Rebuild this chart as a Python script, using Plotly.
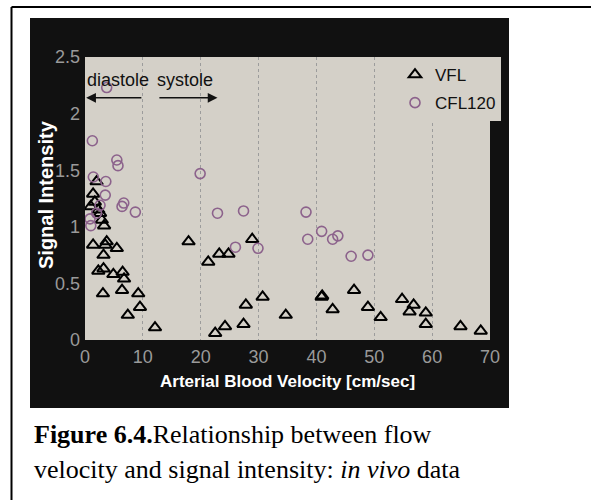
import plotly.graph_objects as go

# ---- data ----
vfl_x = [2.0, 1.4, 0.98, 1.7, 2.3, 2.6, 2.9, 3.3, 1.4, 3.75, 3.5, 3.2, 5.5, 2.3, 3.2, 4.9,
         6.5, 6.75, 3.1, 6.4, 9.2, 9.5, 7.4, 12.1, 17.9, 21.3, 23.2, 24.8, 28.9, 22.5, 24.2,
         27.4, 27.8, 30.7, 34.7, 41.0, 40.9, 42.8, 46.5, 48.9, 51.1, 54.8, 56.1, 56.8, 58.9,
         58.9, 64.9, 68.4]
vfl_y = [1.40, 1.29, 1.18, 1.22, 1.15, 1.12, 1.06, 1.01, 0.84, 0.87, 0.84, 0.75, 0.81, 0.61,
         0.63, 0.58, 0.60, 0.54, 0.41, 0.44, 0.41, 0.29, 0.22, 0.11, 0.87, 0.69, 0.76, 0.76,
         0.89, 0.06, 0.12, 0.14, 0.31, 0.38, 0.22, 0.39, 0.38, 0.27, 0.44, 0.29, 0.20, 0.36,
         0.25, 0.31, 0.24, 0.14, 0.12, 0.08]

cfl_x = [3.75, 1.27, 1.44, 3.6, 3.5, 5.5, 5.7, 6.7, 6.4, 8.7, 0.87, 1.0, 2.6, 2.0,
         19.9, 22.9, 27.4, 26.0, 29.9, 38.2, 38.5, 40.9, 42.8, 43.7, 46.0, 48.9]
cfl_y = [2.23, 1.76, 1.44, 1.40, 1.28, 1.59, 1.54, 1.21, 1.18, 1.13, 1.07, 1.01, 1.19, 1.12,
         1.47, 1.12, 1.14, 0.82, 0.81, 1.13, 0.89, 0.96, 0.89, 0.92, 0.74, 0.75]

x_ticks = [0, 10, 20, 30, 40, 50, 60, 70]
y_ticks = [0, 0.5, 1, 1.5, 2, 2.5]
y_tick_text = ["0", "0.5", "1", "1.5", "2", "2.5"]

# ---- styling ----
SANS = "Liberation Sans, Arial, sans-serif"
SERIF = "Liberation Serif, Times New Roman, serif"
PLOT_BG = "#d4d0c8"
DARK = "#111111"
TICK_GRAY = "#9a9a9a"
PURPLE = "#8c628c"

W, H = 591, 500
L, R, T, B = 85, 101, 57, 160
pw, ph = W - L - R, H - T - B


def px(x):
    return (x - L) / pw


def py(y):
    return (H - B - y) / ph


fig = go.Figure()
fig.add_trace(go.Scatter(
    x=vfl_x, y=vfl_y, mode="markers", name="VFL", legendgroup="a",
    marker=dict(symbol="triangle-up-open", size=11, color="#000000", line=dict(width=2, color="#000000")),
))
fig.add_trace(go.Scatter(
    x=cfl_x, y=cfl_y, mode="markers", name="CFL120", legendgroup="b",
    marker=dict(symbol="circle-open", size=10, color=PURPLE, line=dict(width=1.6, color=PURPLE)),
))

shapes = [
    # dark panel
    dict(type="rect", xref="paper", yref="paper", x0=px(30), x1=px(509), y0=py(408), y1=py(18),
         fillcolor=DARK, line=dict(width=0), layer="below"),
    # plot area background
    dict(type="rect", xref="paper", yref="paper", x0=0, x1=1, y0=0, y1=1,
         fillcolor=PLOT_BG, line=dict(width=0), layer="below"),
    # outer frame
    dict(type="line", xref="paper", yref="paper", x0=px(11.5), x1=px(600), y0=py(7), y1=py(7),
         line=dict(color="#000000", width=2)),
    dict(type="line", xref="paper", yref="paper", x0=px(11.5), x1=px(11.5), y0=py(7), y1=py(505),
         line=dict(color="#000000", width=2)),
]

annotations = [
    # arrows
    dict(x=0.2, y=2.14, ax=10, ay=2.14, xref="x", yref="y", axref="x", ayref="y",
         showarrow=True, arrowhead=2, arrowsize=1.3, arrowwidth=1.5, arrowcolor="#111111", text=""),
    dict(x=22.9, y=2.14, ax=12.6, ay=2.14, xref="x", yref="y", axref="x", ayref="y",
         showarrow=True, arrowhead=2, arrowsize=1.3, arrowwidth=1.5, arrowcolor="#111111", text=""),
    dict(x=5.7, y=2.30, xref="x", yref="y", text="diastole", showarrow=False,
         xanchor="center", yanchor="middle", font=dict(family=SANS, size=18, color="#111111")),
    dict(x=17.3, y=2.30, xref="x", yref="y", text="systole", showarrow=False,
         xanchor="center", yanchor="middle", font=dict(family=SANS, size=18, color="#111111")),
    # axis titles
    dict(x=0.5, y=py(381), xref="paper", yref="paper", text="<b>Arterial Blood Velocity [cm/sec]</b>",
         xanchor="center", yanchor="middle", showarrow=False,
         font=dict(family=SANS, size=17, color="#ffffff")),
    dict(x=px(46), y=py(195), xref="paper", yref="paper", text="<b>Signal Intensity</b>", textangle=-90,
         xanchor="center", yanchor="middle", showarrow=False,
         font=dict(family=SANS, size=20, color="#ffffff")),
    # caption
    dict(x=px(32), y=py(434), xref="paper", yref="paper", xanchor="left", yanchor="middle",
         text="<b>Figure 6.4.</b>Relationship between flow", showarrow=False,
         font=dict(family=SERIF, size=26, color="#000000")),
    dict(x=px(32), y=py(469), xref="paper", yref="paper", xanchor="left", yanchor="middle",
         text="velocity and signal intensity: <i>in vivo</i> data", showarrow=False,
         font=dict(family=SERIF, size=26, color="#000000")),
]

fig.update_layout(
    width=W, height=H,
    margin=dict(l=L, r=R, t=T, b=B, pad=0),
    paper_bgcolor="#ffffff",
    plot_bgcolor=PLOT_BG,
    showlegend=True,
    legend=dict(x=px(395), y=py(57), xanchor="left", yanchor="top", bgcolor=PLOT_BG,
                borderwidth=0, font=dict(family=SANS, size=17, color="#111111"),
                tracegroupgap=3),
    shapes=shapes,
    annotations=annotations,
    xaxis=dict(range=[0, 70], tickvals=x_ticks, showgrid=True, gridcolor="#9c9c9c", griddash="dot",
               gridwidth=1, zeroline=False, showline=False, ticks="",
               tickfont=dict(family=SANS, size=18, color=TICK_GRAY), ticklabelstandoff=4),
    yaxis=dict(range=[0, 2.5], tickvals=y_ticks, ticktext=y_tick_text, showgrid=False, zeroline=False,
               showline=False, ticks="", tickfont=dict(family=SANS, size=18, color=TICK_GRAY),
               ticklabelstandoff=4),
)

fig.write_html("out.html")
